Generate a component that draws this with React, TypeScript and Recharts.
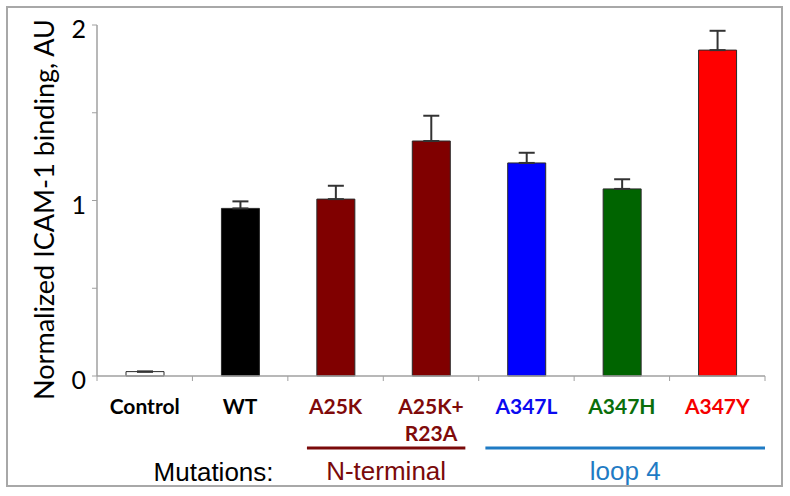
import { Bar, BarChart, Cell, ErrorBar, XAxis, YAxis } from "recharts";

const categories = ["Control", "WT", "A25K", "A25K+R23A", "A347L", "A347H", "A347Y"];
const binding = [0.025, 0.955, 1.008, 1.339, 1.214, 1.066, 1.857];
const bindingErr = [0, 0.04, 0.076, 0.144, 0.058, 0.055, 0.11];
const barColors = ["#ffffff", "#000000", "#800000", "#800000", "#0000ff", "#006400", "#ff0000"];
const labelColors = ["#000000", "#000000", "#7f0a0a", "#7f0a0a", "#0a0af0", "#0a6e0a", "#f50000"];
const yTicks = [0, 0.5, 1, 1.5, 2];

const groups = [
  { label: "N-terminal", first: 2, last: 3, color: "#7a0a0a" },
  { label: "loop 4", first: 4, last: 6, color: "#1f7bc4" },
];

const W = 790;
const H = 496;
const MARGIN = { top: 25, right: 25, bottom: 90, left: 17 };
const Y_AXIS_W = 80;
const X_AXIS_H = 30;
const BAND = (W - MARGIN.left - Y_AXIS_W - MARGIN.right) / categories.length;
// group underline extents, as fractions of a band
const GROUP_PAD = [
  [-0.3, 0.36],
  [-0.43, 0.5],
];
const AXIS_GREY = "#a0a0a0";

const data = categories.map((name, i) => ({
  name,
  value: binding[i],
  err: [0, bindingErr[i]],
}));

function CategoryTick(props: any) {
  const { x, y, index } = props;
  const lines = categories[index].split(/(?<=\+)/);
  const half = BAND / 2;
  return (
    <g>
      <line x1={x - half} x2={x - half} y1={y} y2={y + 5} stroke={AXIS_GREY} />
      {index === categories.length - 1 && (
        <line x1={x + half} x2={x + half} y1={y} y2={y + 5} stroke={AXIS_GREY} />
      )}
      <text
        x={x}
        y={y + 38}
        textAnchor="middle"
        fill={labelColors[index]}
        fontFamily="Lato"
        fontWeight={700}
        fontSize={21}
      >
        {lines.map((l: string, i: number) => (
          <tspan key={i} x={x} dy={i === 0 ? 0 : 27}>
            {l}
          </tspan>
        ))}
      </text>
      {index === 1 && (
        <text
          x={x + 0.35 * BAND}
          y={y + 105}
          textAnchor="end"
          fill="#000"
          fontFamily="Liberation Sans"
          fontSize={26}
        >
          Mutations:
        </text>
      )}
      {groups.map((g, gi) => {
        if (g.last !== index) return null;
        const startX = x - (g.last - g.first) * BAND;
        const x1 = startX + GROUP_PAD[gi][0] * BAND;
        const x2 = x + GROUP_PAD[gi][1] * BAND;
        return (
          <g key={g.label}>
            <line x1={x1} x2={x2} y1={y + 72} y2={y + 72} stroke={g.color} strokeWidth={3} />
            <text
              x={(x1 + x2) / 2}
              y={y + 104}
              textAnchor="middle"
              fill={g.color}
              fontFamily="Liberation Sans"
              fontSize={26}
            >
              {g.label}
            </text>
          </g>
        );
      })}
    </g>
  );
}

function ValueTick(props: any) {
  const { x, y, payload } = props;
  if (payload.value % 1 !== 0) return <g />;
  return (
    <text x={x} y={y + 13} textAnchor="end" fill="#000" fontFamily="Lato" fontSize={25}>
      {payload.value}
    </text>
  );
}

export default function App() {
  const plotBottom = H - MARGIN.bottom - X_AXIS_H;
  const titleY = (MARGIN.top + plotBottom) / 2 + 9;
  return (
    <div style={{ position: "absolute", left: 0, top: 0, width: W, height: H, background: "#fff" }}>
      <div
        style={{
          position: "absolute",
          left: 6,
          top: 6,
          width: 777,
          height: 481,
          boxSizing: "border-box",
          border: "2px solid #a8a8a8",
        }}
      />
      <div style={{ position: "absolute", left: 0, top: 0 }}>
        <BarChart width={W} height={H} data={data} margin={MARGIN}>
          <XAxis
            dataKey="name"
            height={X_AXIS_H}
            axisLine={{ stroke: AXIS_GREY, strokeWidth: 1.5 }}
            tickLine={false}
            tickSize={0}
            tickMargin={0}
            interval={0}
            tick={<CategoryTick />}
          />
          <YAxis
            width={Y_AXIS_W}
            domain={[0, 2]}
            ticks={yTicks}
            interval={0}
            axisLine={{ stroke: AXIS_GREY, strokeWidth: 1.5 }}
            tickLine={{ stroke: AXIS_GREY }}
            tickSize={5}
            tickMargin={6}
            tick={<ValueTick />}
          />
          <Bar dataKey="value" barSize={38} stroke="#2a2a2a" strokeWidth={1} isAnimationActive={false}>
            {data.map((d, i) => (
              <Cell key={d.name} fill={barColors[i]} />
            ))}
            <ErrorBar dataKey="err" direction="y" width={8} stroke="#333" strokeWidth={2} />
          </Bar>
          <text
            x={43}
            y={titleY}
            transform={`rotate(-90 43 ${titleY})`}
            textAnchor="middle"
            dominantBaseline="central"
            fill="#000"
            fontFamily="Lato"
            fontSize={27}
          >
            Normalized ICAM-1 binding, AU
          </text>
        </BarChart>
      </div>
    </div>
  );
}
